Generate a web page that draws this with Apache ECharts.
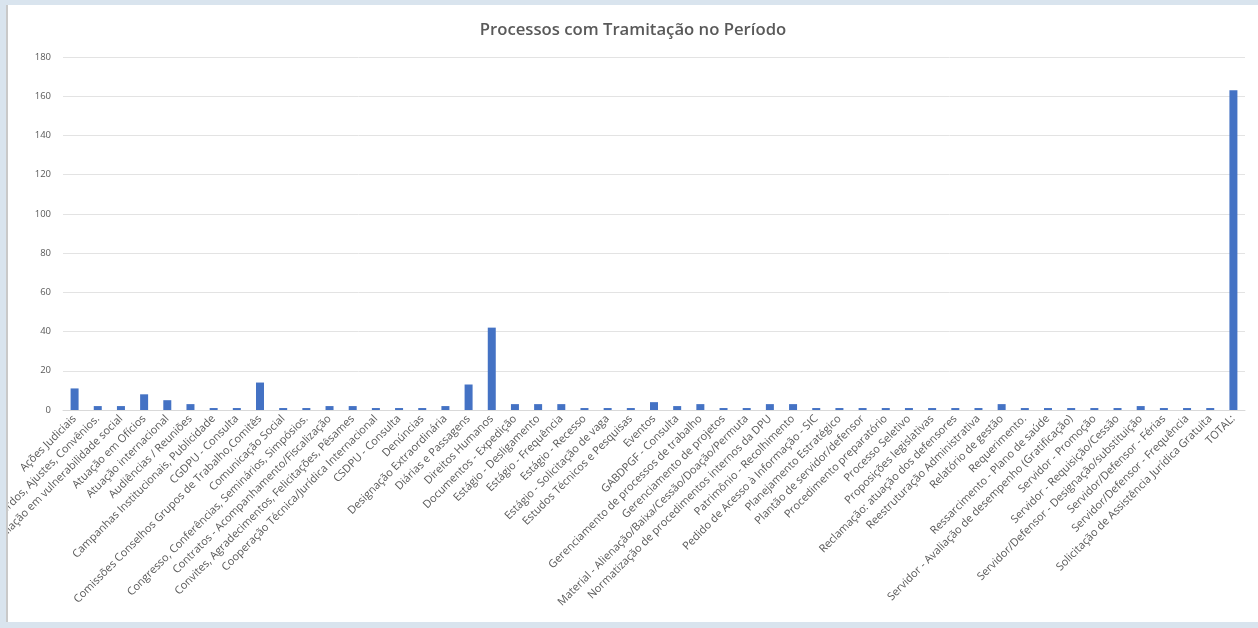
<!DOCTYPE html>
<html>
<head>
<meta charset="utf-8">
<script src="https://cdn.jsdelivr.net/npm/echarts@6/dist/echarts.min.js"></script>
<style>
  html, body { margin: 0; padding: 0; width: 1258px; height: 628px; overflow: hidden; background: #d9e4ee; }
  #frame { position: absolute; left: 6px; top: 5px; width: 1252px; height: 617px; background: #ffffff; border-left: 2px solid #c9c9c9; box-sizing: border-box; }
  #chart { position: absolute; left: 8px; top: 5px; width: 1250px; height: 617px; }
</style>
</head>
<body>
<div id="frame"></div>
<div id="chart"></div>
<script>
// Tipos de processo (assuntos) com tramitação no período
const categories = [
  "Ações Judiciais",
  "Acordos, Ajustes, Convênios.",
  "Atendimento à população em vulnerabilidade social",
  "Atuação em Ofícios",
  "Atuação internacional",
  "Audiências / Reuniões",
  "Campanhas Institucionais, Publicidade",
  "CGDPU - Consulta",
  "Comissões Conselhos Grupos de Trabalho,Comitês",
  "Comunicação Social",
  "Congresso, Conferências, Seminários, Simpósios.",
  "Contratos - Acompanhamento/Fiscalização",
  "Convites, Agradecimentos, Felicitações, Pêsames",
  "Cooperação Técnica/Jurídica Internacional",
  "CSDPU - Consulta",
  "Denúncias",
  "Designação Extraordinária",
  "Diárias e Passagens",
  "Direitos Humanos",
  "Documentos - Expedição",
  "Estágio - Desligamento",
  "Estágio - Frequência",
  "Estágio - Recesso",
  "Estágio - Solicitação de vaga",
  "Estudos Técnicos e Pesquisas",
  "Eventos",
  "GABDPGF - Consulta",
  "Gerenciamento de processos de trabalho",
  "Gerenciamento de projetos",
  "Material - Alienação/Baixa/Cessão/Doação/Permuta",
  "Normatização de procedimentos internos da DPU",
  "Patrimônio - Recolhimento",
  "Pedido de Acesso à Informação - SIC",
  "Planejamento Estratégico",
  "Plantão de servidor/defensor",
  "Procedimento preparatório",
  "Processo Seletivo",
  "Proposições legislativas",
  "Reclamação: atuação dos defensores",
  "Reestruturação Administrativa",
  "Relatório de gestão",
  "Requerimento.",
  "Ressarcimento - Plano de saúde",
  "Servidor - Avaliação de desempenho (Gratificação)",
  "Servidor - Promoção",
  "Servidor - Requisição/Cessão",
  "Servidor/Defensor - Designação/substituição",
  "Servidor/Defensor - Férias",
  "Servidor/Defensor - Frequência",
  "Solicitação de Assistência Jurídica Gratuita",
  "TOTAL:"
];

// Quantidade de processos por assunto
const processCounts = [
  11, 2, 2, 8, 5, 3, 1, 1, 14, 1,
  1, 2, 2, 1, 1, 1, 2, 13, 42, 3,
  3, 3, 1, 1, 1, 4, 2, 3, 1, 1,
  3, 3, 1, 1, 1, 1, 1, 1, 1, 1,
  3, 1, 1, 1, 1, 1, 2, 1, 1, 1,
  163
];

// Escala do eixo vertical
const yTicks = { min: 0, max: 180, interval: 20 };

const chart = echarts.init(document.getElementById('chart'), null, { renderer: 'canvas' });

chart.setOption({
  backgroundColor: 'transparent',
  animation: false,
  title: {
    text: 'Processos com Tramitação no Período',
    left: 'center',
    top: 12,
    textStyle: {
      fontFamily: 'Open Sans',
      fontSize: 16.7,
      fontWeight: 600,
      color: '#595959'
    }
  },
  grid: {
    left: 55,
    right: 13,
    top: 52,
    bottom: 212,
    containLabel: false,
    outerBoundsMode: 'none'
  },
  xAxis: {
    type: 'category',
    data: categories,
    axisLine: { show: true, lineStyle: { color: '#d9d9d9', width: 1 } },
    axisTick: { show: false },
    axisLabel: {
      interval: 0,
      rotate: 45,
      margin: 7,
      fontFamily: 'Open Sans',
      fontSize: 11,
      color: '#595959'
    }
  },
  yAxis: {
    type: 'value',
    min: yTicks.min,
    max: yTicks.max,
    interval: yTicks.interval,
    axisLine: { show: false },
    axisTick: { show: false },
    axisLabel: {
      margin: 12,
      fontFamily: 'Open Sans',
      fontSize: 9.5,
      color: '#595959'
    },
    splitLine: { lineStyle: { color: '#e3e3e3', width: 1 } }
  },
  series: [{
    type: 'bar',
    data: processCounts,
    barWidth: 8,
    itemStyle: { color: '#4472c4' }
  }]
});
</script>
</body>
</html>
